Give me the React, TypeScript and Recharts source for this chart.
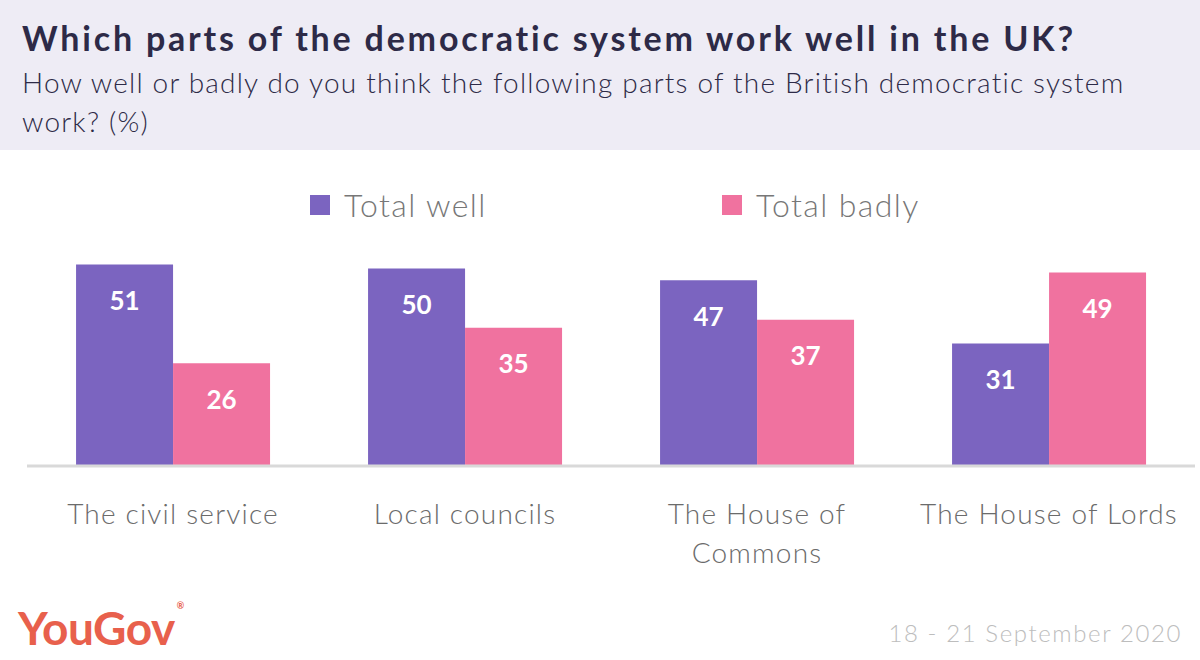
import React from 'react';
import { BarChart, Bar, XAxis, YAxis, Legend, LabelList } from 'recharts';

// Categories and survey values (%)
const categories = ['The civil service', 'Local councils', 'The House of Commons', 'The House of Lords'];
const totalWell = [51, 50, 47, 31];
const totalBadly = [26, 35, 37, 49];
const seriesNames = ['Total well', 'Total badly'];

const PURPLE = '#7b64c0';
const PINK = '#f0729f';
const FONT = 'Lato, "Open Sans", sans-serif';

const data = categories.map((name, i) => ({
  name,
  well: totalWell[i],
  badly: totalBadly[i],
}));

// simple word wrap by character count
function wrapWords(label: string, maxChars: number) {
  const lines: string[] = [];
  let cur = '';
  label.split(' ').forEach((w) => {
    const next = cur ? cur + ' ' + w : w;
    if (next.length > maxChars && cur) {
      lines.push(cur);
      cur = w;
    } else {
      cur = next;
    }
  });
  if (cur) lines.push(cur);
  return lines;
}

function CategoryTick(props: any) {
  const { x, y, payload } = props;
  const lines = wrapWords(String(payload.value), 18);
  return (
    <text
      x={x}
      y={y + 30}
      textAnchor="middle"
      fontSize={28}
      fontWeight={300}
      fontFamily={FONT}
      letterSpacing={1.2}
      fill="#6b6b6b"
    >
      {lines.map((ln, i) => (
        <tspan key={i} x={x} dy={i === 0 ? '0.71em' : 39}>
          {ln}
        </tspan>
      ))}
    </text>
  );
}

function LegendContent() {
  const items = [
    { label: seriesNames[0], color: PURPLE, left: 310 },
    { label: seriesNames[1], color: PINK, left: 722 },
  ];
  return (
    <div style={{ position: 'relative', height: 40 }}>
      {items.map((it) => (
        <div
          key={it.label}
          style={{ position: 'absolute', left: it.left, top: 0, display: 'flex', alignItems: 'center' }}
        >
          <span style={{ width: 20, height: 20, background: it.color, display: 'inline-block', marginRight: 14 }} />
          <span style={{ fontFamily: FONT, fontWeight: 300, fontSize: 32, letterSpacing: 1.4, color: '#777' }}>
            {it.label}
          </span>
        </div>
      ))}
    </div>
  );
}

export default function App() {
  return (
    <div
      style={{
        position: 'absolute',
        top: 0,
        left: 0,
        width: 1200,
        height: 660,
        background: '#fff',
        overflow: 'hidden',
        fontFamily: FONT,
      }}
    >
      <div style={{ position: 'absolute', top: 0, left: 0, width: 1200, height: 150, background: '#eeecf5' }} />
      <div
        style={{
          position: 'absolute',
          top: 17,
          left: 22,
          fontSize: 34,
          fontWeight: 700,
          letterSpacing: 2.8,
          color: '#2d2a47',
          whiteSpace: 'nowrap',
        }}
      >
        Which parts of the democratic system work well in the UK?
      </div>
      <div
        style={{
          position: 'absolute',
          top: 63,
          left: 22,
          fontSize: 28,
          fontWeight: 300,
          letterSpacing: 1.2,
          lineHeight: '39px',
          color: '#2d2a47',
          whiteSpace: 'nowrap',
        }}
      >
        How well or badly do you think the following parts of the British democratic system
        <br />
        work? (%)
      </div>

      <div style={{ position: 'absolute', top: 0, left: 0 }}>
        <BarChart
          width={1200}
          height={660}
          data={data}
          margin={{ top: 189, right: 5, bottom: 134, left: 27 }}
          barCategoryGap="16.8%"
          barGap={0}
        >
          <XAxis
            dataKey="name"
            axisLine={{ stroke: '#d9d9d9', strokeWidth: 3 }}
            tickLine={false}
            height={60}
            interval={0}
            tick={<CategoryTick />}
          />
          <YAxis hide domain={[0, 60]} />
          <Legend
            verticalAlign="top"
            height={40}
            content={<LegendContent />}
            wrapperStyle={{ top: 185, left: 0, width: 1200 }}
          />
          <Bar dataKey="well" name={seriesNames[0]} fill={PURPLE} isAnimationActive={false}>
            <LabelList
              dataKey="well"
              position="insideTop"
              offset={27}
              fill="#fff"
              fontSize={26}
              fontWeight={700}
              fontFamily={FONT}
            />
          </Bar>
          <Bar dataKey="badly" name={seriesNames[1]} fill={PINK} isAnimationActive={false}>
            <LabelList
              dataKey="badly"
              position="insideTop"
              offset={27}
              fill="#fff"
              fontSize={26}
              fontWeight={700}
              fontFamily={FONT}
            />
          </Bar>
        </BarChart>
      </div>

      <div
        style={{
          position: 'absolute',
          left: 18,
          top: 600,
          fontSize: 46,
          fontWeight: 700,
          color: '#e8604c',
          letterSpacing: -0.5,
        }}
      >
        YouGov<span style={{ fontSize: 9, verticalAlign: 'top', marginLeft: 2 }}>®</span>
      </div>
      <div
        style={{
          position: 'absolute',
          right: 18,
          top: 618,
          fontSize: 24,
          fontWeight: 300,
          letterSpacing: 1.6,
          color: '#bdbdbd',
        }}
      >
        18 - 21 September 2020
      </div>
    </div>
  );
}
